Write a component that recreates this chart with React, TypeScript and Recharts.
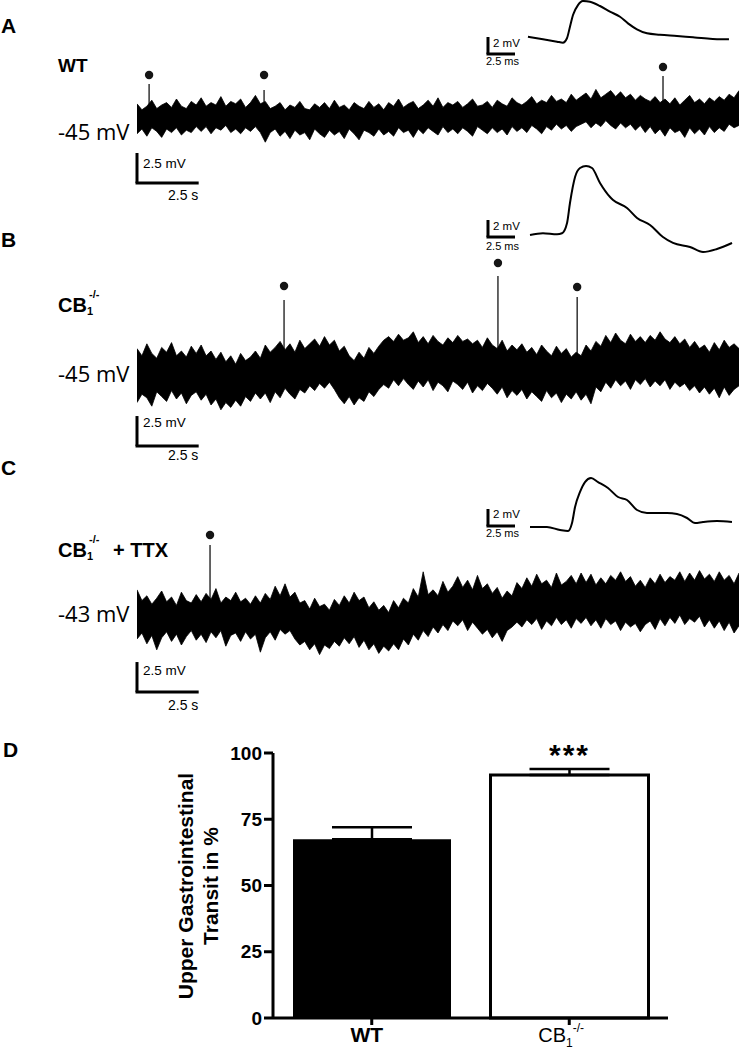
import React from 'react'
import {
  AreaChart, Area, LineChart, Line, BarChart, Bar, Cell, ErrorBar, LabelList,
  XAxis, YAxis, ReferenceLine, ReferenceDot,
} from 'recharts'

const SANS = 'Arial, "Liberation Sans", Helvetica, sans-serif'
const LIGHT = '"Open Sans", "Liberation Sans", sans-serif'

// recordings: envelope of the noisy trace every 0.2 s, deviation (mV) from the resting level
const STEP = 0.2
const restA = -45
const traceAHi = [
  1.1, 0.6, 0.9, 1.4, 0.7, 1.0, 1.2, 0.8, 1.5, 0.9, 0.7, 1.3, 1.0,
  1.6, 0.9, 1.2, 1.0, 1.7, 0.9, 1.3, 1.1, 1.5, 0.8, 1.2, 1.8, 1.1,
  1.3, 0.7, 0.9, 1.2, 0.6, 1.0, 0.8, 1.3, 0.7, 0.6, 1.1, 0.8, 1.2,
  0.7, 1.4, 0.8, 1.0, 0.6, 1.2, 0.9, 0.7, 1.3, 0.8, 1.1, 0.6, 1.2,
  0.9, 1.5, 0.8, 1.1, 1.3, 0.7, 1.0, 1.4, 0.9, 1.6, 0.8, 1.2, 1.0,
  1.3, 0.8, 1.1, 1.5, 0.9, 1.0, 1.3, 0.8, 1.4, 1.1, 0.9, 1.6, 1.2,
  1.0, 1.3, 1.7, 1.1, 1.4, 1.2, 1.8, 1.3, 1.5, 1.2, 1.9, 1.4, 1.7,
  2.0, 1.5, 2.3, 1.6, 1.9, 2.2, 1.7, 2.1, 1.6, 1.9, 1.4, 1.8, 1.5,
  1.3, 1.7, 1.2, 1.5, 1.1, 1.6, 1.0, 1.4, 1.8, 1.2, 1.5, 1.1, 1.6,
  1.3, 1.7, 1.4, 1.9, 1.6, 2.2,
]
const traceALo = [
  -1.4, -1.0, -1.6, -0.9, -1.2, -1.7, -1.0, -1.3, -0.9, -1.5, -1.1, -1.3, -0.8,
  -1.2, -0.8, -1.4, -0.9, -1.1, -0.7, -1.3, -1.0, -1.4, -0.9, -1.2, -0.8, -1.3,
  -2.1, -1.3, -1.0, -1.6, -1.2, -1.8, -1.1, -1.5, -1.3, -1.9, -1.0, -1.4, -1.7,
  -1.1, -1.5, -1.2, -1.8, -1.0, -1.4, -1.9, -1.1, -1.3, -1.6, -1.0, -1.5, -1.2,
  -1.6, -0.9, -1.3, -1.1, -1.7, -1.0, -1.4, -0.9, -1.2, -1.5, -0.8, -1.3, -1.0,
  -1.4, -0.9, -1.2, -1.6, -0.8, -1.1, -1.4, -0.9, -1.3, -1.0, -1.5, -0.8, -1.2,
  -0.9, -1.3, -0.7, -1.0, -1.4, -0.8, -1.1, -0.6, -1.0, -0.7, -1.2, -0.8, -0.6,
  -0.4, -0.9, -0.5, -0.8, -0.3, -0.7, -1.0, -0.5, -0.9, -0.6, -1.1, -0.7, -1.3,
  -0.8, -1.4, -1.0, -1.6, -0.9, -1.3, -1.1, -1.7, -0.9, -1.4, -1.0, -1.5, -0.8,
  -1.3, -0.9, -1.2, -0.6, -0.9, -0.7,
]
const spikesA = [0.49, 5.15, 21.32]
const spikePeaksA = [-42.25, -42.75, -41.58]
const spikeDotsA = [-41.5, -41.5, -40.83]

const restB = -45
const traceBHi = [
  2.2, 1.6, 2.6, 1.8, 1.4, 2.3, 1.9, 2.7, 1.6, 2.0, 1.5, 2.4, 1.8,
  2.5, 1.6, 2.0, 1.3, 1.9, 1.1, 1.6, 0.9, 1.8, 1.2, 1.5, 2.0, 1.4,
  2.5, 1.9, 2.3, 2.8, 2.1, 2.6, 1.9, 2.9, 2.2, 2.6, 3.0, 2.4, 3.2,
  2.5, 2.9, 2.0, 2.4, 1.6, 1.2, 1.9, 1.4, 2.3, 1.8, 2.4, 2.9, 3.2,
  2.8, 3.4, 2.9, 3.1, 3.6, 2.7, 3.2, 2.6, 3.3, 2.8, 2.5, 3.1, 2.7,
  3.3, 2.8, 3.0, 2.6, 2.9, 2.3, 3.1, 2.5, 2.2, 2.9, 2.0, 2.5, 2.1,
  2.6, 1.9, 2.3, 1.7, 2.5, 2.0, 1.6, 2.4, 1.8, 2.2, 1.5, 1.9, 1.6,
  2.5, 2.0, 2.8, 2.4, 3.3, 2.7, 3.5, 2.9, 2.6, 3.4, 2.8, 3.2, 2.7,
  3.3, 2.9, 3.6, 3.0, 2.7, 3.2, 2.6, 3.0, 2.3, 2.8, 2.2, 2.5, 1.9,
  2.7, 2.1, 2.9, 2.3, 2.6, 2.2,
]
const traceBLo = [
  -2.3, -1.6, -1.9, -2.6, -1.4, -1.8, -2.2, -1.3, -2.0, -1.5, -2.4, -1.7, -1.4,
  -2.1, -1.6, -2.5, -2.0, -2.9, -2.3, -2.7, -2.1, -2.6, -1.8, -2.2, -1.5, -2.0,
  -1.5, -2.3, -1.4, -1.9, -1.1, -1.6, -2.0, -1.2, -1.5, -0.9, -1.3, -0.7, -1.1,
  -0.6, -1.2, -1.9, -2.4, -1.8, -2.5, -1.9, -2.2, -1.4, -1.8, -1.2, -0.8, -1.1,
  -0.4, -0.9, -0.3, -0.8, -1.2, -0.5, -1.0, -0.4, -1.3, -0.6, -0.9, -1.4, -0.5,
  -0.8, -1.2, -0.6, -1.5, -0.9, -1.3, -0.7, -1.1, -1.6, -1.0, -1.9, -1.3, -1.7,
  -1.2, -2.0, -1.4, -1.8, -2.2, -1.3, -1.9, -1.5, -2.3, -1.6, -2.0, -1.4, -2.1,
  -1.6, -2.4, -1.0, -1.4, -0.6, -1.1, -0.4, -0.9, -0.5, -1.2, -0.4, -0.8, -0.3,
  -1.0, -0.5, -0.9, -0.4, -1.2, -0.6, -1.0, -0.7, -1.3, -0.9, -1.5, -1.0, -1.6,
  -1.1, -1.9, -1.0, -1.7, -1.2, -0.9,
]
const spikesB = [5.96, 14.63, 17.84]
const spikePeaksB = [-38.75, -36.75, -38.5]
const spikeDotsB = [-37.58, -35.67, -37.67]

const restC = -43
const traceCHi = [
  2.1, 1.2, 1.6, 0.9, 1.4, 2.0, 1.1, 1.5, 0.8, 1.9, 1.2, 1.0, 1.7,
  1.1, 1.8, 1.3, 2.2, 1.0, 1.5, 1.2, 1.9, 1.1, 1.4, 0.9, 1.6, 1.0,
  1.8, 1.3, 2.4, 1.6, 2.6, 1.5, 1.9, 1.0, 1.2, 0.5, 1.4, 0.7, 0.9,
  0.4, 1.3, 0.8, 1.6, 1.0, 1.9, 1.2, 1.5, 0.6, 1.1, 0.4, 0.8, 0.2,
  1.2, 0.6, 1.4, 1.0, 2.2, 1.5, 3.6, 1.7, 2.1, 1.6, 2.8, 1.9, 2.4,
  3.2, 2.3, 2.9, 2.1, 3.3, 2.2, 2.6, 1.8, 2.3, 1.4, 2.0, 1.6, 2.7,
  2.2, 3.1, 2.4, 3.4, 2.6, 2.9, 2.3, 3.5, 2.5, 2.8, 3.3, 2.6, 3.5,
  2.7, 3.4, 2.5, 3.1, 2.6, 3.3, 2.9, 3.6, 2.8, 3.2, 2.4, 2.9, 2.3,
  3.1, 2.6, 3.4, 2.7, 3.2, 2.9, 3.6, 2.8, 3.5, 2.9, 3.7, 3.0, 3.4,
  2.8, 3.6, 2.9, 3.3, 2.6, 3.5,
]
const traceCLo = [
  -2.0, -1.5, -2.4, -1.7, -2.9, -1.9, -1.4, -2.2, -1.6, -2.5, -1.8, -1.3, -2.1,
  -1.6, -2.3, -1.4, -1.9, -1.3, -2.6, -1.7, -1.5, -2.2, -1.4, -2.0, -1.6, -3.1,
  -1.9, -1.4, -2.1, -1.2, -1.6, -1.3, -2.0, -2.5, -2.2, -2.9, -2.4, -3.3, -2.5,
  -2.8, -2.2, -2.6, -1.9, -2.4, -1.8, -2.7, -2.1, -2.9, -2.4, -3.2, -2.6, -3.0,
  -2.4, -2.9, -2.0, -2.5, -1.6, -2.1, -1.3, -1.8, -1.0, -1.5, -0.8, -1.3, -0.5,
  -0.9, -0.4, -1.3, -0.6, -1.1, -1.6, -1.2, -1.9, -1.4, -2.2, -1.3, -1.0, -0.6,
  -1.0, -0.4, -0.8, -0.3, -1.2, -0.5, -0.9, -0.2, -0.8, -0.4, -1.1, -0.3, -0.7,
  -0.2, -0.9, -0.4, -1.1, -0.3, -0.8, -0.5, -1.3, -0.6, -1.0, -0.7, -1.4, -0.8,
  -0.5, -1.2, -0.3, -0.9, -0.2, -0.7, 0.0, -0.8, -0.3, -0.6, -0.1, -1.0, -0.4,
  -1.1, -0.5, -1.3, -0.6, -1.5, -0.9,
]
const spikesC = [2.96]
const spikePeaksC = [-37.17]
const spikeDotsC = [-36.33]

// averaged action potentials (insets), ms and mV from baseline
const apTimesA = [0, 1.39, 2.69, 3.24, 3.61, 3.89, 4.17, 4.63, 5.09, 5.74, 6.67, 7.59, 8.52, 9.26, 10.09, 11.02, 12.22, 13.8, 15.28, 16.85, 17.78, 18.61]
const apVoltsA = [0.04, -0.27, -0.55, -0.67, -0.15, 1.21, 2.59, 3.76, 4.24, 4.15, 3.65, 2.98, 2.39, 1.61, 0.91, 0.44, 0.27, 0.12, -0.04, -0.2, -0.27, -0.27]
const apTimesB = [0, 1.2, 2.5, 2.96, 3.43, 3.7, 4.17, 4.63, 5.19, 5.74, 6.48, 7.41, 7.69, 8.98, 9.91, 11.11, 12.31, 13.24, 14.81, 16.02, 17.31, 18.7]
const apVoltsB = [0, 0.2, 0.08, 0.2, 1.41, 3.76, 6.82, 7.88, 8.12, 7.88, 6.12, 4.47, 4.12, 3.18, 2.0, 1.18, -0.24, -0.94, -1.41, -2.0, -1.65, -0.94]
const apTimesC = [0, 1.57, 2.78, 3.52, 3.89, 4.17, 4.63, 5.09, 5.65, 6.3, 7.22, 8.15, 8.98, 9.91, 10.83, 11.76, 12.69, 13.61, 14.54, 15.28, 16.02, 17.31, 18.7]
const apVoltsC = [0, 0, -0.35, -0.47, 0.47, 2.35, 4.12, 5.29, 5.76, 5.29, 4.59, 3.53, 3.18, 2.0, 1.65, 1.65, 1.65, 1.53, 1.06, 0.47, 0.59, 0.71, 0.59]

// transit
const groups = ['WT', 'CB1-/-']
const transit = [67.5, 91.7]
const transitSem = [4.5, 2.3]
const stars = ['', '***']
const transitTicks = [0, 25, 50, 75, 100]

type TraceProps = {
  top: number; height: number; domain: [number, number]; rest: number
  hi: number[]; lo: number[]; spikes: number[]; peaks: number[]; dots: number[]; barBase: number
}

function Trace({ top, height, domain, rest, hi, lo, spikes, peaks, dots, barBase }: TraceProps) {
  const data = hi.map((h, i) => ({ t: +(i * STEP).toFixed(2), band: [rest + lo[i], rest + h] }))
  return (
    <div style={{ position: 'absolute', left: 134, top }}>
      <AreaChart width={605} height={height} data={data} margin={{ top: 0, right: 0, bottom: 0, left: 3 }}>
        <XAxis type="number" dataKey="t" domain={[0, 24.4]} hide allowDataOverflow />
        <YAxis type="number" domain={domain} hide allowDataOverflow />
        <Area dataKey="band" type="linear" stroke="#000" strokeWidth={0.8} fill="#000" fillOpacity={1}
          dot={false} activeDot={false} isAnimationActive={false} />
        {spikes.map((s, i) => (
          <ReferenceLine key={'l' + i} segment={[{ x: s, y: rest }, { x: s, y: peaks[i] }]}
            stroke="#000" strokeWidth={1.2} ifOverflow="visible" />
        ))}
        {spikes.map((s, i) => (
          <ReferenceDot key={'d' + i} x={s} y={dots[i]} r={4.2} fill="#151515" stroke="none" ifOverflow="visible" />
        ))}
        <ReferenceLine segment={[{ x: 0, y: barBase }, { x: 0, y: barBase + 2.5 }]} stroke="#000" strokeWidth={3} ifOverflow="visible" />
        <ReferenceLine segment={[{ x: -0.06, y: barBase }, { x: 2.5, y: barBase }]} stroke="#000" strokeWidth={3} ifOverflow="visible" />
      </AreaChart>
    </div>
  )
}

type InsetProps = {
  top: number; height: number; tDomain: [number, number]; vDomain: [number, number]
  times: number[]; volts: number[]; barT: number; barV: number
}

function Inset({ top, height, tDomain, vDomain, times, volts, barT, barV }: InsetProps) {
  const data = times.map((t, i) => ({ t, v: volts[i] }))
  return (
    <div style={{ position: 'absolute', left: 480, top }}>
      <LineChart width={259} height={height} data={data} margin={{ top: 0, right: 0, bottom: 0, left: 0 }}>
        <XAxis type="number" dataKey="t" domain={tDomain} hide allowDataOverflow />
        <YAxis type="number" domain={vDomain} hide allowDataOverflow />
        <Line dataKey="v" type="monotone" stroke="#000" strokeWidth={2} dot={false} isAnimationActive={false} />
        <ReferenceLine segment={[{ x: barT, y: barV }, { x: barT, y: barV + 2 }]} stroke="#000" strokeWidth={3} ifOverflow="visible" />
        <ReferenceLine segment={[{ x: barT - 0.14, y: barV }, { x: barT + 2.5, y: barV }]} stroke="#000" strokeWidth={3} ifOverflow="visible" />
      </LineChart>
    </div>
  )
}

const GroupTick = (props: any) => {
  const { x, y, payload } = props
  const label: string = payload.value
  if (label.startsWith('CB1')) {
    return (
      <text x={x - 31} y={y + 15} fontFamily={SANS} fontSize={20} fill="#000">
        CB<tspan fontSize={12} dy={5}>1</tspan>
        <tspan fontSize={12} dy={-15}>{label.slice(3)}</tspan>
      </text>
    )
  }
  return (
    <text x={x - 5} y={y + 15} textAnchor="middle" fontFamily={SANS} fontSize={21} fontWeight={700} fill="#000">{label}</text>
  )
}

function TransitChart() {
  const data = groups.map((g, i) => ({ group: g, value: transit[i], err: [0, transitSem[i]], sig: stars[i] }))
  const axisStyle = { stroke: '#000', strokeWidth: 3 }
  return (
    <div style={{ position: 'absolute', left: 150, top: 720 }}>
      <BarChart width={540} height={330} data={data} margin={{ top: 33, right: 22, bottom: 2, left: 63 }} barCategoryGap={20}>
        <XAxis dataKey="group" axisLine={axisStyle} tickLine={axisStyle} tickSize={7} interval={0} tick={<GroupTick />} height={30} />
        <YAxis domain={[0, 100]} ticks={transitTicks} axisLine={axisStyle} tickLine={axisStyle} tickSize={9} width={60}
          tick={{ fill: '#000', fontSize: 19, fontWeight: 700, fontFamily: SANS }} />
        <Bar dataKey="value" isAnimationActive={false}>
          {data.map((d, i) => (
            <Cell key={d.group} fill={i === 0 ? '#000' : '#fff'} stroke="#000" strokeWidth={i === 0 ? 0 : 3} />
          ))}
          <ErrorBar dataKey="err" width={40} stroke="#000" strokeWidth={2.5} direction="y" />
          <LabelList dataKey="sig" content={(p: any) => (p.value ? (
            <text x={p.x + p.width / 2} y={p.y - 10} textAnchor="middle" fontFamily={SANS} fontSize={30}
              fontWeight={700} letterSpacing={2} fill="#000">{p.value}</text>
          ) : null)} />
        </Bar>
      </BarChart>
    </div>
  )
}

const T = (p: { x: number; y: number; s: number; w?: number; f?: string; children: React.ReactNode }) => (
  <text x={p.x} y={p.y} fontSize={p.s} fontWeight={p.w ?? 400} fontFamily={p.f ?? SANS} fill="#000">{p.children}</text>
)

const Cb1 = ({ x, y, tail }: { x: number; y: number; tail?: string }) => (
  <text x={x} y={y} fontSize={20} fontWeight={700} fontFamily={SANS} fill="#000">
    CB<tspan fontSize={11} dy={3}>1</tspan>
    <tspan x={x + 31} fontSize={11} dy={-17}>-/-</tspan>
    {tail ? <tspan x={x + 55} fontSize={20} dy={14}>{tail}</tspan> : null}
  </text>
)

export default function App() {
  return (
    <div style={{ position: 'absolute', left: 0, top: 0, width: 739, height: 1050, background: '#fff', overflow: 'hidden' }}>
      <Trace top={0} height={204} domain={[-52.25, -35.25]} rest={restA} hi={traceAHi} lo={traceALo}
        spikes={spikesA} peaks={spikePeaksA} dots={spikeDotsA} barBase={-50.5} />
      <Trace top={204} height={264} domain={[-52.75, -30.75]} rest={restB} hi={traceBHi} lo={traceBLo}
        spikes={spikesB} peaks={spikePeaksB} dots={spikeDotsB} barBase={-50.92} />
      <Trace top={468} height={240} domain={[-50.75, -30.75]} rest={restC} hi={traceCHi} lo={traceCLo}
        spikes={spikesC} peaks={spikePeaksC} dots={spikeDotsC} barBase={-49.42} />

      <Inset top={-3} height={75} tDomain={[-4.44, 19.54]} vDomain={[-4.12, 4.71]} times={apTimesA} volts={apVoltsA} barT={-3.7} barV={-2} />
      <Inset top={158} height={100} tDomain={[-4.63, 19.35]} vDomain={[-2.71, 9.06]} times={apTimesB} volts={apVoltsB} barT={-3.89} barV={-0.24} />
      <Inset top={468} height={75} tDomain={[-4.63, 19.35]} vDomain={[-1.88, 6.94]} times={apTimesC} volts={apVoltsC} barT={-3.89} barV={0.12} />

      <TransitChart />

      <svg width={739} height={1050} style={{ position: 'absolute', left: 0, top: 0, pointerEvents: 'none' }}>
        <T x={1} y={33} s={21} w={700}>A</T>
        <T x={58} y={72} s={19} w={700}>WT</T>
        <T x={58} y={140} s={22} f={LIGHT}>-45 mV</T>
        <T x={143} y={168} s={13.5}>2.5 mV</T>
        <T x={168} y={200} s={14}>2.5 s</T>
        <T x={493} y={47} s={11.5}>2 mV</T>
        <T x={486} y={65} s={11}>2.5 ms</T>

        <T x={1} y={247} s={21} w={700}>B</T>
        <Cb1 x={58} y={312} />
        <T x={58} y={382} s={22} f={LIGHT}>-45 mV</T>
        <T x={143} y={427} s={13.5}>2.5 mV</T>
        <T x={168} y={460} s={14}>2.5 s</T>
        <T x={493} y={230} s={11.5}>2 mV</T>
        <T x={486} y={250} s={11}>2.5 ms</T>

        <T x={1} y={475} s={21} w={700}>C</T>
        <Cb1 x={58} y={557} tail="+ TTX" />
        <T x={58} y={622} s={22} f={LIGHT}>-43 mV</T>
        <T x={143} y={675} s={13.5}>2.5 mV</T>
        <T x={168} y={710} s={14}>2.5 s</T>
        <T x={493} y={518} s={11.5}>2 mV</T>
        <T x={486} y={537} s={11}>2.5 ms</T>

        <T x={3} y={757} s={21} w={700}>D</T>
        <text x={193} y={886} transform="rotate(-90 193 886)" textAnchor="middle" fontSize={21} fontWeight={700} fontFamily={SANS} fill="#000">Upper Gastrointestinal</text>
        <text x={218} y={886} transform="rotate(-90 218 886)" textAnchor="middle" fontSize={21} fontWeight={700} fontFamily={SANS} fill="#000">Transit in %</text>
      </svg>
    </div>
  )
}
